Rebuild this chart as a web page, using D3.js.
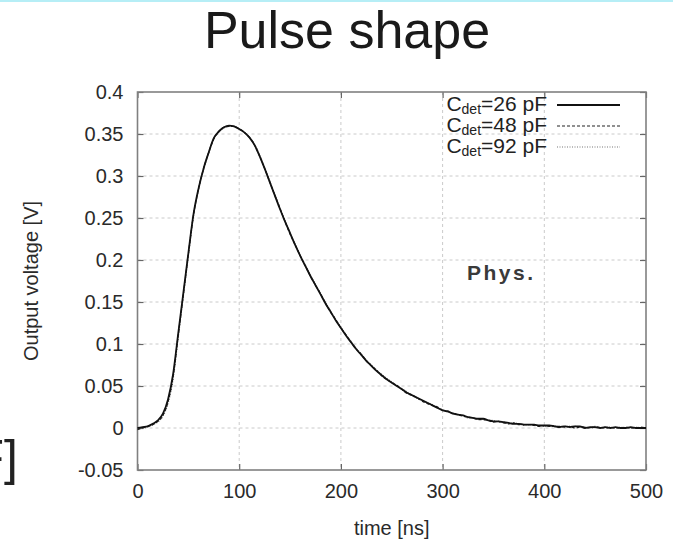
<!DOCTYPE html>
<html lang="en">
    <head>
        <meta charset="utf-8">
        <title>Pulse shape</title>
        <script type="text/javascript" src="https://cdn.jsdelivr.net/npm/d3@7"></script>
        <style>
            body { margin: 0; background: #fff; }
            text { font-family: "Liberation Sans", Arial, sans-serif; }
        </style>
    </head>

    <body>
        <script type="text/javascript">
        var w = 673;
        var h = 547;

        // sample times [ns]
        var times = [
            0, 5, 10, 15, 20, 25, 30, 35, 40, 45,
            50, 55, 60, 65, 70, 75, 80, 85, 90, 95,
            100, 105, 110, 115, 120, 125, 130, 135, 140, 145,
            150, 155, 160, 165, 170, 175, 180, 185, 190, 195,
            200, 205, 210, 215, 220, 225, 230, 235, 240, 245,
            250, 255, 260, 265, 270, 275, 280, 285, 290, 295,
            300, 305, 310, 315, 320, 325, 330, 335, 340, 345,
            350, 355, 360, 365, 370, 375, 380, 385, 390, 395,
            400, 405, 410, 415, 420, 425, 430, 435, 440, 445,
            450, 455, 460, 465, 470, 475, 480, 485, 490, 495,
            500
        ];

        // output voltage [V], Cdet = 26 pF
        var v26 = [
            0.000, 0.001, 0.002, 0.005, 0.009, 0.017, 0.034, 0.064, 0.112, 0.160,
            0.208, 0.254, 0.285, 0.309, 0.328, 0.345, 0.353, 0.358, 0.360, 0.359,
            0.356, 0.352, 0.346, 0.337, 0.324, 0.309, 0.293, 0.277, 0.261, 0.246,
            0.232, 0.218, 0.205, 0.193, 0.181, 0.170, 0.159, 0.148, 0.138, 0.128,
            0.119, 0.110, 0.102, 0.094, 0.087, 0.080, 0.074, 0.068, 0.063, 0.058,
            0.054, 0.050, 0.046, 0.042, 0.039, 0.036, 0.033, 0.030, 0.027, 0.024,
            0.021, 0.020, 0.017, 0.016, 0.015, 0.013, 0.012, 0.011, 0.011, 0.009,
            0.008, 0.008, 0.007, 0.006, 0.005, 0.005, 0.004, 0.004, 0.004, 0.003,
            0.003, 0.003, 0.002, 0.001, 0.002, 0.001, 0.002, 0.002, 0.000, 0.001,
            0.001, 0.000, 0.001, 0.000, 0.001, 0.000, 0.000, 0.001, 0.000, 0.000,
            0.000
        ];

        // Cdet = 48 pF
        var v48 = [
            -0.002, 0.000, 0.002, 0.004, 0.008, 0.015, 0.031, 0.061, 0.110, 0.158,
            0.207, 0.253, 0.285, 0.309, 0.328, 0.344, 0.353, 0.358, 0.359, 0.359,
            0.356, 0.352, 0.346, 0.337, 0.324, 0.309, 0.293, 0.277, 0.262, 0.246,
            0.231, 0.218, 0.205, 0.193, 0.181, 0.170, 0.160, 0.148, 0.138, 0.129,
            0.119, 0.111, 0.102, 0.094, 0.088, 0.080, 0.074, 0.069, 0.062, 0.058,
            0.054, 0.051, 0.046, 0.041, 0.039, 0.036, 0.032, 0.029, 0.027, 0.025,
            0.021, 0.019, 0.018, 0.016, 0.014, 0.013, 0.012, 0.010, 0.010, 0.009,
            0.007, 0.008, 0.006, 0.005, 0.006, 0.004, 0.004, 0.004, 0.003, 0.002,
            0.003, 0.002, 0.002, 0.002, 0.001, 0.002, 0.000, 0.001, 0.001, 0.000,
            0.001, 0.001, 0.000, 0.001, 0.000, 0.000, 0.001, 0.000, 0.000, 0.001,
            0.000
        ];

        // Cdet = 92 pF
        var v92 = [
            -0.001, 0.000, 0.001, 0.004, 0.007, 0.014, 0.029, 0.058, 0.107, 0.156,
            0.205, 0.252, 0.284, 0.308, 0.327, 0.344, 0.352, 0.357, 0.359, 0.359,
            0.356, 0.352, 0.346, 0.338, 0.325, 0.310, 0.294, 0.278, 0.262, 0.247,
            0.232, 0.219, 0.206, 0.194, 0.182, 0.171, 0.160, 0.149, 0.139, 0.129,
            0.120, 0.111, 0.103, 0.095, 0.088, 0.081, 0.075, 0.069, 0.064, 0.059,
            0.055, 0.050, 0.047, 0.043, 0.039, 0.035, 0.033, 0.030, 0.028, 0.024,
            0.022, 0.019, 0.018, 0.016, 0.015, 0.012, 0.012, 0.011, 0.010, 0.009,
            0.009, 0.007, 0.007, 0.005, 0.006, 0.005, 0.003, 0.004, 0.003, 0.003,
            0.002, 0.002, 0.003, 0.001, 0.002, 0.001, 0.002, 0.001, 0.001, 0.000,
            0.002, 0.000, 0.001, 0.001, 0.000, 0.001, 0.000, 0.000, 0.001, 0.000,
            0.000
        ];

        var seriesNames = ["26 pF", "48 pF", "92 pF"];
        var xTicks = [0, 100, 200, 300, 400, 500];
        var yTicks = [-0.05, 0, 0.05, 0.1, 0.15, 0.2, 0.25, 0.3, 0.35, 0.4];

        var series = [
            {name: seriesNames[0], values: v26, stroke: "#111", dash: null, width: 1.8},
            {name: seriesNames[1], values: v48, stroke: "#222", dash: "3,2", width: 1.2},
            {name: seriesNames[2], values: v92, stroke: "#777", dash: "1,1.5", width: 1.2}
        ];

        // plot box (not called "top": that name belongs to window)
        var pLeft = 137.5, pRight = 646, pTop = 92, pBottom = 470;

        var xScale = d3.scaleLinear()
                        .domain([0, 500])
                        .range([pLeft, pRight]);

        var yScale = d3.scaleLinear()
                        .domain([-0.05, 0.4])
                        .range([pBottom, pTop]);

        var svg = d3.select("body")
                    .append("svg")
                    .attr("width", w)
                    .attr("height", h);

        svg.append("rect")
            .attr("width", w).attr("height", h)
            .attr("fill", "#fff");

        // cyan strip at the very top of the slide
        svg.append("rect")
            .attr("x", 0).attr("y", 0)
            .attr("width", w).attr("height", 2)
            .attr("fill", "#b6eef6");

        // title
        svg.append("text")
            .attr("x", 347)
            .attr("y", 48)
            .attr("text-anchor", "middle")
            .attr("font-size", "52px")
            .attr("fill", "#1a1a1a")
            .text("Pulse shape");

        // leftover bracket from the slide edge
        svg.append("text")
            .attr("x", 18)
            .attr("y", 475)
            .attr("text-anchor", "end")
            .attr("font-size", "50px")
            .attr("fill", "#222")
            .text("F]");

        // grid
        var grid = svg.append("g")
                    .attr("stroke", "#cacaca")
                    .attr("stroke-width", 1)
                    .attr("stroke-dasharray", "3,3");

        grid.selectAll("line.gx")
            .data(xTicks.slice(1, -1))
            .enter()
            .append("line")
            .attr("x1", function(d){ return xScale(d); })
            .attr("x2", function(d){ return xScale(d); })
            .attr("y1", pTop)
            .attr("y2", pBottom);

        grid.selectAll("line.gy")
            .data(yTicks.slice(1, -1))
            .enter()
            .append("line")
            .attr("x1", pLeft)
            .attr("x2", pRight)
            .attr("y1", function(d){ return yScale(d); })
            .attr("y2", function(d){ return yScale(d); });

        // axes, ticks pointing inside like gnuplot
        var xAxis = d3.axisBottom(xScale)
                        .tickValues(xTicks)
                        .tickSize(-6)
                        .tickPadding(14)
                        .tickFormat(d3.format("d"));

        var yAxis = d3.axisLeft(yScale)
                        .tickValues(yTicks)
                        .tickSize(-6)
                        .tickPadding(14)
                        .tickFormat(function(d){ return d === 0 ? "0" : String(+d.toFixed(2)); });

        svg.append("g")
            .attr("transform", "translate(0," + pBottom + ")")
            .call(xAxis);

        svg.append("g")
            .attr("transform", "translate(" + pLeft + ",0)")
            .call(yAxis);

        // mirrored ticks on top and right
        svg.append("g")
            .attr("transform", "translate(0," + pTop + ")")
            .call(d3.axisTop(xScale).tickValues(xTicks).tickSize(-6).tickFormat(""));

        svg.append("g")
            .attr("transform", "translate(" + pRight + ",0)")
            .call(d3.axisRight(yScale).tickValues(yTicks).tickSize(-6).tickFormat(""));

        svg.selectAll(".domain").remove();
        svg.selectAll(".tick line").attr("stroke", "#666").attr("stroke-width", 1.2);
        svg.selectAll(".tick text")
            .attr("font-family", "Liberation Sans, Arial, sans-serif")
            .attr("font-size", "20px")
            .attr("fill", "#2a2a2a");

        // border
        svg.append("rect")
            .attr("x", pLeft).attr("y", pTop)
            .attr("width", pRight - pLeft).attr("height", pBottom - pTop)
            .attr("fill", "none")
            .attr("stroke", "#808080")
            .attr("stroke-width", 1.6);

        // curves
        var line = d3.line()
                    .x(function(d, i){ return xScale(times[i]); })
                    .y(function(d){ return yScale(d); })
                    .curve(d3.curveMonotoneX);

        svg.selectAll("path.pulse")
            .data(series.slice().reverse())
            .enter()
            .append("path")
            .attr("class", "pulse")
            .attr("d", function(d){ return line(d.values); })
            .attr("fill", "none")
            .attr("stroke", function(d){ return d.stroke; })
            .attr("stroke-width", function(d){ return d.width; })
            .attr("stroke-dasharray", function(d){ return d.dash; });

        // legend
        var legend = svg.selectAll("g.legend")
                        .data(series)
                        .enter()
                        .append("g")
                        .attr("class", "legend")
                        .attr("transform", function(d, i){ return "translate(0," + (105 + i * 21) + ")"; });

        var lt = legend.append("text")
                    .attr("x", 547)
                    .attr("y", 6)
                    .attr("text-anchor", "end")
                    .attr("font-size", "21px")
                    .attr("fill", "#222");
        lt.append("tspan").text("C");
        lt.append("tspan").attr("font-size", "14px").attr("dy", 3).text("det");
        lt.append("tspan").attr("dy", -3).text(function(d){ return "=" + d.name; });

        legend.append("line")
            .attr("x1", 557)
            .attr("x2", 620)
            .attr("y1", 0)
            .attr("y2", 0)
            .attr("stroke", function(d){ return d.stroke; })
            .attr("stroke-width", function(d){ return d.width; })
            .attr("stroke-dasharray", function(d){ return d.dash; });

        // axis titles
        svg.append("text")
            .attr("x", (pLeft + pRight) / 2)
            .attr("y", 535)
            .attr("text-anchor", "middle")
            .attr("font-size", "20px")
            .attr("fill", "#2a2a2a")
            .text("time [ns]");

        svg.append("text")
            .attr("transform", "translate(38," + ((pTop + pBottom) / 2) + ") rotate(-90)")
            .attr("text-anchor", "middle")
            .attr("font-size", "20px")
            .attr("fill", "#2a2a2a")
            .text("Output voltage [V]");

        // annotation
        svg.append("text")
            .attr("x", 467)
            .attr("y", 280)
            .attr("font-size", "21px")
            .attr("font-weight", "bold")
            .attr("letter-spacing", "2.5px")
            .attr("fill", "#3a3a3a")
            .text("Phys.");

        </script>
    
    </body>

</html>
